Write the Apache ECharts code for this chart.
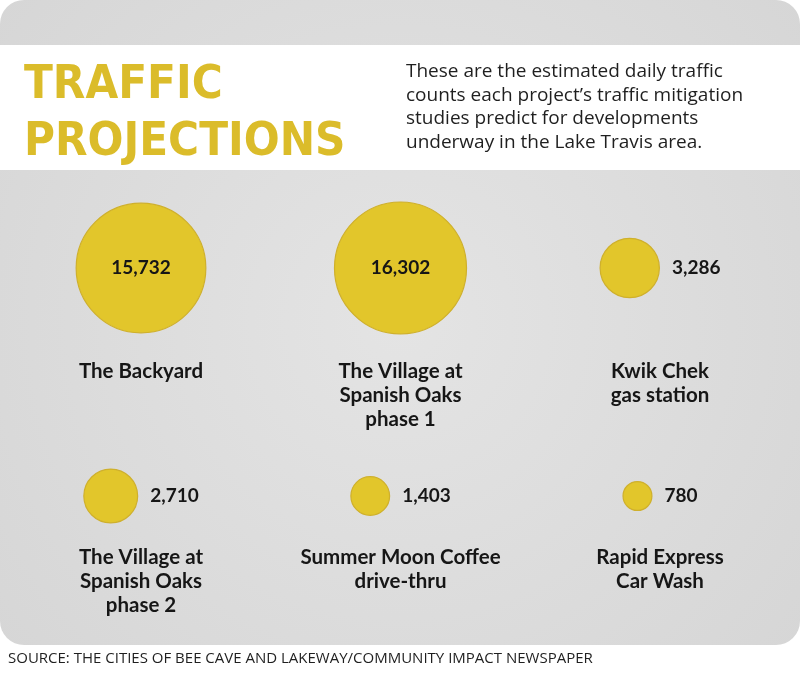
<!DOCTYPE html>
<html>
<head>
<meta charset="utf-8">
<script src="https://cdn.jsdelivr.net/npm/echarts@6/dist/echarts.min.js"></script>
<style>
html,body{margin:0;padding:0;background:#fff;}
#chart{width:800px;height:675px;}
</style>
</head>
<body>
<div id="chart"></div>
<script>
// ---- data ----
const projects = ['The Backyard', 'The Village at\nSpanish Oaks\nphase 1', 'Kwik Chek\ngas station',
                  'The Village at\nSpanish Oaks\nphase 2', 'Summer Moon Coffee\ndrive-thru', 'Rapid Express\nCar Wash'];
const dailyTrips = [15732, 16302, 3286, 2710, 1403, 780];
const columns = ['c1', 'c2', 'c3', 'c1', 'c2', 'c3'];
const rows = ['top', 'top', 'top', 'bottom', 'bottom', 'bottom'];
const columnCats = ['c1', 'c2', 'c3'];
const rowCats = ['top', 'bottom'];

// ---- style / layout ----
const YELLOW = '#e2c62b';
const YELLOW_EDGE = '#cfb02c';
const INK = '#161616';
const RADIUS_K = 0.517;            // px per sqrt(value)
const VALUE_SIZE = 19;
const GAP = 12;
const nameDist = {top: 91, bottom: 49};

const fmt = v => v.toLocaleString('en-US');
const ctx = document.createElement('canvas').getContext('2d');
ctx.font = 'bold ' + VALUE_SIZE + 'px Lato';
const textW = s => ctx.measureText(s).width;

const bubbleData = dailyTrips.map((v, i) => {
  const r = RADIUS_K * Math.sqrt(v);
  const inside = r > 40;
  let off = 0;
  if (!inside) {
    const total = 2 * r + GAP + textW(fmt(v));
    off = -total / 2 + r;
  }
  return {
    value: [columns[i], rows[i], v],
    symbolSize: 2 * r,
    symbolOffset: [off, 0],
    label: inside
      ? {position: 'inside'}
      : {position: 'right', distance: GAP, align: 'left'}
  };
});

const nameData = projects.map((n, i) => ({
  value: [columns[i], rows[i], n],
  label: {distance: nameDist[rows[i]]}
}));

const chart = echarts.init(document.getElementById('chart'));
chart.setOption({
  animation: false,
  backgroundColor: '#ffffff',
  graphic: [
    {type: 'rect', z: -10, shape: {x: 0, y: 0, width: 800, height: 645, r: 24},
     style: {fill: {type: 'radial', x: 0.5, y: 0.5, r: 0.8,
       colorStops: [{offset: 0, color: '#e4e4e4'}, {offset: 1, color: '#d6d6d6'}]}}},
    {type: 'rect', z: -9, shape: {x: 0, y: 45, width: 800, height: 125}, style: {fill: '#ffffff'}},
    {type: 'text', left: 24, top: 57, style: {
      text: 'TRAFFIC\nPROJECTIONS', fill: '#dbbc2a',
      font: 'bold 47px "DejaVu Sans Condensed"', lineHeight: 57}},
    {type: 'text', left: 406, top: 60, style: {
      text: 'These are the estimated daily traffic\ncounts each project\u2019s traffic mitigation\nstudies predict for developments\nunderway in the Lake Travis area.',
      fill: '#1f1f1f', font: '19px "Open Sans"', lineHeight: 23.5}},
    {type: 'text', left: 8, top: 651, style: {
      text: 'SOURCE: THE CITIES OF BEE CAVE AND LAKEWAY/COMMUNITY IMPACT NEWSPAPER',
      fill: '#1f1f1f', font: '15px "Open Sans"'}}
  ],
  grid: {left: 11.25, width: 778.5, top: 154, height: 456},
  xAxis: {type: 'category', data: columnCats, show: false},
  yAxis: {type: 'category', data: rowCats, inverse: true, show: false},
  series: [
    {
      type: 'scatter',
      data: bubbleData,
      itemStyle: {color: YELLOW, borderColor: YELLOW_EDGE, borderWidth: 1.2, opacity: 1},
      label: {show: true, formatter: p => fmt(p.value[2]),
        fontSize: VALUE_SIZE, fontWeight: 'bold', fontFamily: 'Lato', color: INK},
      emphasis: {disabled: true}
    },
    {
      type: 'scatter',
      data: nameData,
      symbolSize: 0,
      itemStyle: {color: INK, opacity: 1},
      label: {show: true, position: 'bottom', formatter: p => p.value[2],
        fontSize: 20.5, fontWeight: 'bold', fontFamily: 'Lato', color: INK, opacity: 1,
        lineHeight: 24, align: 'center', verticalAlign: 'top'},
      emphasis: {disabled: true}
    }
  ]
});
</script>
</body>
</html>
